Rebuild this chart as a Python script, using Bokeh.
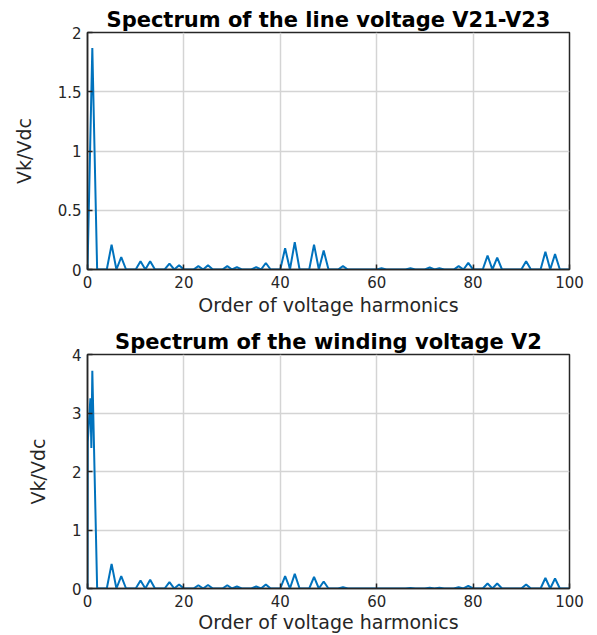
from bokeh.plotting import figure
from bokeh.layouts import column
from bokeh.models import FixedTicker, Range1d
from bokeh.embed import file_html
from bokeh.resources import INLINE

top_title = "Spectrum of the line voltage V21-V23"
bottom_title = "Spectrum of the winding voltage V2"
x_label = "Order of voltage harmonics"
y_label = "Vk/Vdc"
x_ticks = [0, 20, 40, 60, 80, 100]
top_y_ticks = [0, 0.5, 1, 1.5, 2]
bottom_y_ticks = [0, 1, 2, 3, 4]
max_order = 100

# Top: line voltage spectrum (harmonic order -> amplitude)
top_orders = [1, 5, 7, 11, 13, 17, 19, 23, 25, 29, 31, 35, 37, 41, 43, 47, 49,
              53, 61, 67, 71, 73, 77, 79, 83, 85, 91, 95, 97]
top_amps = [1.87, 0.21, 0.105, 0.07, 0.07, 0.05, 0.036, 0.028, 0.036, 0.028, 0.02, 0.02, 0.055,
            0.18, 0.23, 0.21, 0.16,
            0.028, 0.01, 0.01, 0.017, 0.01, 0.028, 0.056, 0.117, 0.1, 0.07, 0.15, 0.13]

# Bottom: winding voltage spectrum
bottom_lead_x = [0, 0.05, 0.6, 0.8, 1]
bottom_lead_y = [0, 2.5, 3.25, 2.4, 3.72]
bottom_orders = [5, 7, 11, 13, 17, 19, 23, 25, 29, 31, 35, 37, 41, 43, 47, 49,
                 53, 67, 71, 73, 77, 79, 83, 85, 91, 95, 97]
bottom_amps = [0.42, 0.21, 0.135, 0.15, 0.11, 0.07, 0.056, 0.06, 0.056, 0.034, 0.034, 0.07,
               0.21, 0.25, 0.2, 0.12,
               0.02, 0.01, 0.012, 0.012, 0.02, 0.045, 0.085, 0.085, 0.07, 0.18, 0.17]

top_map = dict(zip(top_orders, top_amps))
top_x = list(range(0, max_order + 1))
top_y = [top_map.get(k, 0.0) for k in top_x]

bot_map = dict(zip(bottom_orders, bottom_amps))
bot_rest = list(range(2, max_order + 1))
bot_x = bottom_lead_x + bot_rest
bot_y = bottom_lead_y + [bot_map.get(k, 0.0) for k in bot_rest]

FRAME = "#262626"
BLUE = "#0072BD"
FONT = "DejaVu Sans"


def style_axis(ax, ticks):
    ax.ticker = FixedTicker(ticks=ticks)
    ax.axis_line_color = FRAME
    ax.axis_line_width = 1.5
    ax.major_tick_line_color = FRAME
    ax.major_tick_line_width = 1.5
    ax.major_tick_in = 5
    ax.major_tick_out = 0
    ax.minor_tick_line_color = None
    ax.major_label_text_font = FONT
    ax.major_label_text_color = "#262626"
    ax.major_label_text_font_size = "15px"
    ax.major_label_standoff = 6
    ax.axis_label_text_font = FONT
    ax.axis_label_text_font_style = "normal"
    ax.axis_label_text_font_size = "19px"
    ax.axis_label_text_color = "#262626"


def make_fig(title, xs, ys, ymax, yticks, height, btop, bbot, xstand):
    p = figure(width=585, height=height, x_range=Range1d(0, 100), y_range=Range1d(0, ymax),
               output_backend="svg", toolbar_location=None,
               min_border_left=87, min_border_right=16,
               min_border_top=btop, min_border_bottom=bbot)
    p.title.text = title
    p.title.align = "center"
    p.title.text_font = FONT
    p.title.text_font_style = "bold"
    p.title.text_font_size = "21px"
    p.title.text_color = "#000000"
    p.title.standoff = 1
    p.outline_line_color = FRAME
    p.outline_line_width = 1.5
    style_axis(p.xaxis[0], x_ticks)
    style_axis(p.yaxis[0], yticks)
    p.xaxis[0].axis_label = x_label
    p.yaxis[0].axis_label = y_label
    p.xaxis[0].axis_label_standoff = xstand
    p.yaxis[0].axis_label_standoff = 20
    p.xgrid.ticker = FixedTicker(ticks=x_ticks)
    p.ygrid.ticker = FixedTicker(ticks=yticks)
    for g in (p.xgrid[0], p.ygrid[0]):
        g.grid_line_color = "#d4d4d4"
        g.grid_line_width = 1.5
    p.line(xs, ys, line_color=BLUE, line_width=2)
    return p


p1 = make_fig(top_title, top_x, top_y, 2, top_y_ticks, 318, 32, 48, 3)
p2 = make_fig(bottom_title, bot_x, bot_y, 4, bottom_y_ticks, 317, 36, 44, 1)

layout = column(p1, p2, spacing=0)
open("out.html", "w").write(file_html(layout, INLINE))
